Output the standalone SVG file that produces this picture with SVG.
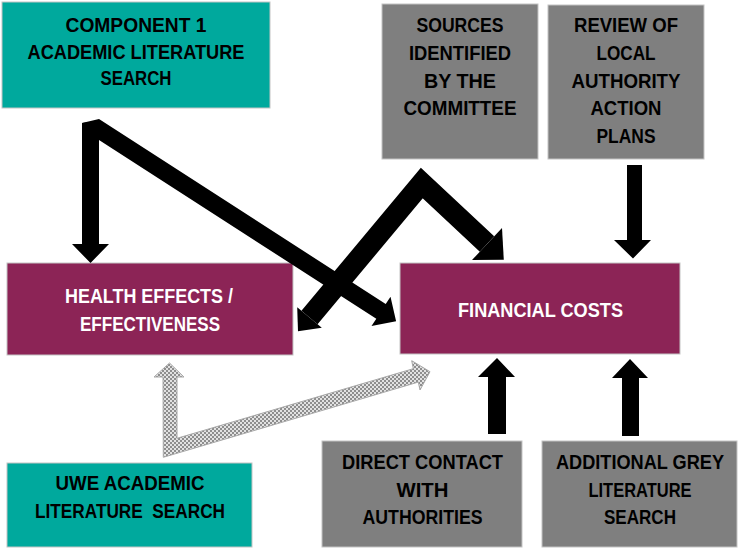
<svg xmlns="http://www.w3.org/2000/svg" width="740" height="549" viewBox="0 0 740 549">
<style>
.teal{fill:#00A99D;stroke:#c4c4c4;stroke-width:1}
.grey{fill:#7f7f7f;stroke:#c4c4c4;stroke-width:1}
.maroon{fill:#8C2456;stroke:#c4c4c4;stroke-width:1}
text{font-family:"Liberation Sans",Arial,sans-serif;font-weight:bold;font-size:20px;text-anchor:middle}
.dk{fill:#000}
.wt{fill:#fff}
.blk{fill:#000}
</style>
<defs>
<pattern id="dots" width="4" height="4" patternUnits="userSpaceOnUse">
<rect width="4" height="4" fill="#e2e2e2"/>
<rect width="2" height="2" fill="#8e8e8e"/>
<rect x="2" y="2" width="2" height="2" fill="#8e8e8e"/>
</pattern>
</defs>

<g id="component1">
<rect class="teal" x="2" y="2" width="268" height="106"/>
<text class="dk" x="136" y="32" textLength="141" lengthAdjust="spacingAndGlyphs">COMPONENT 1</text>
<text class="dk" x="136" y="58.5" textLength="217" lengthAdjust="spacingAndGlyphs">ACADEMIC LITERATURE</text>
<text class="dk" x="136" y="85" textLength="71" lengthAdjust="spacingAndGlyphs">SEARCH</text>
</g>

<g id="sources">
<rect class="grey" x="382" y="4" width="156" height="155"/>
<text class="dk" x="460" y="32" textLength="87" lengthAdjust="spacingAndGlyphs">SOURCES</text>
<text class="dk" x="460" y="60" textLength="102" lengthAdjust="spacingAndGlyphs">IDENTIFIED</text>
<text class="dk" x="460" y="87.5" textLength="72" lengthAdjust="spacingAndGlyphs">BY THE</text>
<text class="dk" x="460" y="115" textLength="113" lengthAdjust="spacingAndGlyphs">COMMITTEE</text>
</g>

<g id="review">
<rect class="grey" x="548" y="5" width="156" height="154"/>
<text class="dk" x="626" y="32" textLength="104" lengthAdjust="spacingAndGlyphs">REVIEW OF</text>
<text class="dk" x="626" y="60" textLength="59" lengthAdjust="spacingAndGlyphs">LOCAL</text>
<text class="dk" x="626" y="87.5" textLength="109" lengthAdjust="spacingAndGlyphs">AUTHORITY</text>
<text class="dk" x="626" y="115" textLength="71" lengthAdjust="spacingAndGlyphs">ACTION</text>
<text class="dk" x="626" y="143" textLength="59" lengthAdjust="spacingAndGlyphs">PLANS</text>
</g>

<g id="health">
<rect class="maroon" x="7" y="263" width="286" height="92"/>
<text class="wt" x="149" y="303" textLength="168" lengthAdjust="spacingAndGlyphs">HEALTH EFFECTS /</text>
<text class="wt" x="150" y="331" textLength="140" lengthAdjust="spacingAndGlyphs">EFFECTIVENESS</text>
</g>

<g id="financial">
<rect class="maroon" x="400" y="263" width="280" height="91"/>
<text class="wt" x="540.5" y="317" textLength="165" lengthAdjust="spacingAndGlyphs">FINANCIAL COSTS</text>
</g>

<g id="uwe">
<rect class="teal" x="7" y="463" width="245" height="84"/>
<text class="dk" x="130" y="490" textLength="149" lengthAdjust="spacingAndGlyphs">UWE ACADEMIC</text>
<text class="dk" x="130" y="518" textLength="190" lengthAdjust="spacingAndGlyphs" xml:space="preserve" style="white-space:pre">LITERATURE  SEARCH</text>
</g>

<g id="direct">
<rect class="grey" x="322" y="441" width="200" height="106"/>
<text class="dk" x="422.5" y="469" textLength="161" lengthAdjust="spacingAndGlyphs">DIRECT CONTACT</text>
<text class="dk" x="422.5" y="497" textLength="52" lengthAdjust="spacingAndGlyphs">WITH</text>
<text class="dk" x="422.5" y="524" textLength="120" lengthAdjust="spacingAndGlyphs">AUTHORITIES</text>
</g>

<g id="additional">
<rect class="grey" x="542" y="441" width="195" height="106"/>
<text class="dk" x="640" y="469" textLength="168" lengthAdjust="spacingAndGlyphs">ADDITIONAL GREY</text>
<text class="dk" x="640" y="497" textLength="103" lengthAdjust="spacingAndGlyphs">LITERATURE</text>
<text class="dk" x="640" y="524" textLength="72" lengthAdjust="spacingAndGlyphs">SEARCH</text>
</g>

<g id="connectors">
<!-- component 1 to health effects (vertical) -->
<polygon class="blk" points="82,123 99,121 99,244 109,244 90.5,263 72,244 82,244"/>
<!-- component 1 to financial costs (diagonal) -->
<polygon class="blk" points="82,123 99,119 385.7,304 390.5,296.7 396.1,321.2 371.5,326.1 376.3,318.8 99,140 82,140"/>
<!-- sources: chevron to both -->
<polyline points="309.5,317.5 421.8,183.1 487,244" fill="none" stroke="#000" stroke-width="21" stroke-linejoin="miter"/>
<polygon class="blk" points="472,260.1 502,227.9 503.8,259.7"/>
<polygon class="blk" points="321.8,327.8 297.2,307.2 298,331.3"/>
<!-- review to financial -->
<polygon class="blk" points="627,165 642,165 642,240 651,240 633,258.5 614,240 627,240"/>
<!-- direct contact to financial -->
<polygon class="blk" points="488,434 506,434 506,377 515,377 497,358 478,377 488,377"/>
<!-- additional grey to financial -->
<polygon class="blk" points="622,436 639,436 639,378 648,378 630,359 612,378 622,378"/>
<!-- UWE to both (dotted) -->
<polygon fill="url(#dots)" stroke="#a8a8a8" stroke-width="1" points="169.5,363 184,377 177,377 177,438.3 413.3,368.7 411.7,360.7 430,371.7 420,390 418.3,382.1 163.3,457.3 163,377 154,377"/>
</g>
</svg>
